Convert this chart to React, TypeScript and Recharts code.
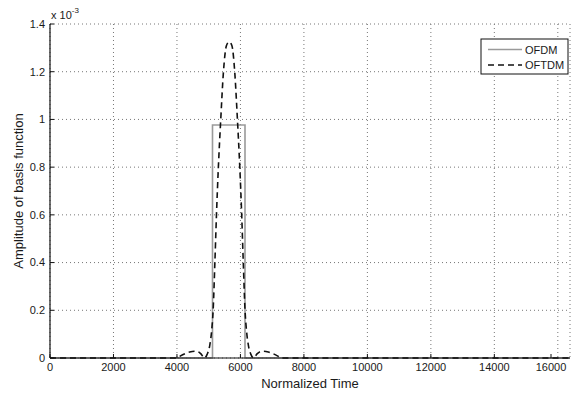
import React from "react";
import { LineChart, Line, XAxis, YAxis, CartesianGrid } from "recharts";

// amplitudes are in units of 1e-3 (axis shows "x 10^-3")
const ofdmTime = [0, 5120, 5120, 6144, 6144, 16384];
const ofdmAmp = [0, 0, 0.9766, 0.9766, 0, 0];

const oftdmTime = [
  0, 4000, 4100, 4250, 4400, 4550, 4650, 4750, 4870, 4950, 5030, 5090, 5140,
  5195, 5245, 5305, 5380, 5465, 5560, 5645, 5730, 5820, 5905, 5980, 6040,
  6090, 6145, 6195, 6255, 6330, 6410, 6530, 6630, 6730, 6880, 7030, 7180,
  7280, 16384,
];
const oftdmAmp = [
  0, 0, 0.008, 0.018, 0.025, 0.028, 0.027, 0.018, 0, 0.015, 0.05, 0.11, 0.2,
  0.4, 0.6, 0.8, 1.0, 1.2, 1.31, 1.325, 1.31, 1.2, 1.0, 0.8, 0.6, 0.4, 0.2,
  0.11, 0.05, 0.015, 0, 0.018, 0.027, 0.028, 0.025, 0.018, 0.008, 0, 0,
];

const xTicks = [0, 2000, 4000, 6000, 8000, 10000, 12000, 14000, 16000];
const yTicks = [0, 0.2, 0.4, 0.6, 0.8, 1, 1.2, 1.4];

const ofdmData = ofdmTime.map((t, i) => ({ t, v: ofdmAmp[i] }));
const oftdmData = oftdmTime.map((t, i) => ({ t, v: oftdmAmp[i] }));

const FONT = "'Liberation Sans', Arial, sans-serif";
const INK = "#1a1a1a";
const AXIS = { stroke: "#111", strokeWidth: 1.2 };

// matlab style: tick marks point into the plot
function BottomTick({ x, y, payload }: any) {
  return (
    <g>
      <line x1={x} x2={x} y1={y - 5} y2={y - 9} stroke="#111" />
      <text x={x} y={y} dy="0.71em" textAnchor="middle" fontFamily={FONT} fontSize={11} fill={INK}>
        {payload.value}
      </text>
    </g>
  );
}

function LeftTick({ x, y, payload }: any) {
  return (
    <g>
      <line x1={x + 5} x2={x + 9} y1={y} y2={y} stroke="#111" />
      <text x={x} y={y} dy="0.35em" textAnchor="end" fontFamily={FONT} fontSize={11} fill={INK}>
        {payload.value}
      </text>
    </g>
  );
}

function TopTick({ x, y }: any) {
  return <line x1={x} x2={x} y1={y} y2={y + 4} stroke="#111" />;
}

function RightTick({ x, y }: any) {
  return <line x1={x} x2={x - 4} y1={y} y2={y} stroke="#111" />;
}

export default function App() {
  return (
    <div style={{ position: "absolute", left: 0, top: 0, width: 571, height: 395, background: "#fff" }}>
      <LineChart
        width={571}
        height={395}
        margin={{ top: 24, right: 1, bottom: 0, left: 0 }}
      >
        <CartesianGrid stroke="#777" strokeDasharray="1 3" />
        <XAxis
          dataKey="t"
          type="number"
          domain={[0, 16384]}
          ticks={xTicks}
          allowDataOverflow
          tick={<BottomTick />}
          tickLine={false}
          tickSize={5}
          tickMargin={0}
          height={37}
          axisLine={AXIS}
          label={{ value: "Normalized Time", position: "insideBottom", offset: 7, style: { fontFamily: FONT, fontSize: 13, fill: INK } }}
        />
        <XAxis
          xAxisId="top"
          orientation="top"
          type="number"
          domain={[0, 16384]}
          ticks={xTicks}
          tick={<TopTick />}
          tickLine={false}
          tickSize={0}
          tickMargin={0}
          height={0}
          axisLine={AXIS}
        />
        <YAxis
          type="number"
          domain={[0, 1.4]}
          ticks={yTicks}
          tick={<LeftTick />}
          tickLine={false}
          tickSize={3}
          tickMargin={2}
          width={50}
          axisLine={AXIS}
        />
        <YAxis
          yAxisId="right"
          orientation="right"
          type="number"
          domain={[0, 1.4]}
          ticks={yTicks}
          tick={<RightTick />}
          tickLine={false}
          tickSize={0}
          tickMargin={0}
          width={0}
          axisLine={AXIS}
        />
        <Line
          data={ofdmData}
          dataKey="v"
          type="linear"
          stroke="#9a9a9a"
          strokeWidth={1.6}
          dot={false}
          isAnimationActive={false}
        />
        <Line
          data={oftdmData}
          dataKey="v"
          type="monotone"
          stroke="#111"
          strokeWidth={1.6}
          strokeDasharray="6 4"
          dot={false}
          isAnimationActive={false}
        />
      </LineChart>
      <svg
        width={571}
        height={395}
        style={{ position: "absolute", left: 0, top: 0, pointerEvents: "none" }}
      >
        <text x={18} y={191} transform="rotate(-90 18 191)" textAnchor="middle" dominantBaseline="central" fontFamily={FONT} fontSize={13} fill={INK}>
          Amplitude of basis function
        </text>
        <text x={51} y={19} fontFamily={FONT} fontSize={11} fill={INK}>
          x 10
          <tspan dy={-6} fontSize={8}>-3</tspan>
        </text>
        <rect x={481} y={39} width={87} height={35} fill="#fff" stroke="#111" strokeWidth={1} />
        <line x1={488} y1={49.5} x2={522} y2={49.5} stroke="#9a9a9a" strokeWidth={1.6} />
        <text x={525} y={53.5} fontFamily={FONT} fontSize={11} fill={INK}>OFDM</text>
        <line x1={488} y1={65} x2={522} y2={65} stroke="#111" strokeWidth={1.6} strokeDasharray="6 4" />
        <text x={525} y={69} fontFamily={FONT} fontSize={11} fill={INK}>OFTDM</text>
      </svg>
    </div>
  );
}
